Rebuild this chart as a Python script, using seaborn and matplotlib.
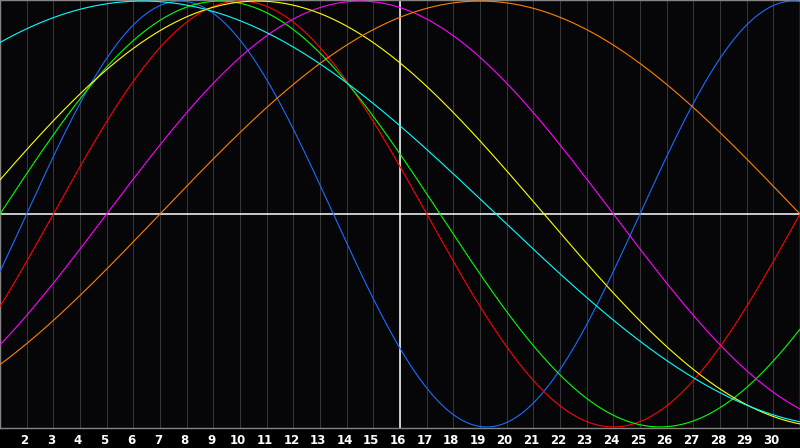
import numpy as np
import pandas as pd
import seaborn as sns
import matplotlib.pyplot as plt
import matplotlib.transforms as mtransforms

# biorhythm cycles: cycle length (days) and the day the curve crosses zero going up
cycles = ['physical', 'emotional', 'intellectual', 'intuitive', 'aesthetic', 'awareness', 'spiritual']
periods = [23, 28, 33, 38, 43, 48, 53]
zero_day = [2.0, 3.0, 1.0, 5.0, -0.1, 7.0, -6.9]
colors = ['#1a6cff', '#ff0000', '#00ff00', '#ff00ff', '#ffff00', '#ff8000', '#00ffff']

days = list(range(1, 32))
tick_days = list(range(2, 31))
today = 16

t = np.linspace(1, 31, 1200)
rows = []
for name, p, z in zip(cycles, periods, zero_day):
    v = np.sin(2 * np.pi * (t - z) / p)
    rows.append(pd.DataFrame({'day': t, 'value': v, 'cycle': name}))
df = pd.concat(rows, ignore_index=True)

sns.set_style('dark', {'axes.facecolor': '#060609', 'figure.facecolor': '#000000'})
plt.rcParams['font.family'] = ['DejaVu Sans']

fig = plt.figure(figsize=(8, 4.48), dpi=100)
ax = fig.add_axes([0, 20 / 448, 1, 428 / 448])

for d in days:
    ax.axvline(d, color='#363636', lw=0.75, zorder=1)

sns.lineplot(data=df, x='day', y='value', hue='cycle', palette=dict(zip(cycles, colors)),
             hue_order=cycles, linewidth=0.8, legend=False, ax=ax, zorder=3)

ax.axhline(0, color='white', lw=1.1, zorder=2)
ax.axvline(today, color='white', lw=1.1, zorder=2)

ax.set_xlim(1, 31)
ax.set_ylim(-1.005, 1.005)
ax.set_yticks([])
ax.set_xticks(tick_days)
ax.set_xticklabels([str(d) for d in tick_days], color='white', fontsize=8.5, fontweight='bold')
ax.tick_params(axis='x', length=0, pad=4)
shift = mtransforms.ScaledTranslation(-2 / 100, 0, fig.dpi_scale_trans)
for lab in ax.get_xticklabels():
    lab.set_transform(lab.get_transform() + shift)
ax.set_xlabel('')
ax.set_ylabel('')
for s in ax.spines.values():
    s.set_visible(True)
    s.set_color('#848484')
    s.set_linewidth(1.0)

fig.savefig('out.png', dpi=100, facecolor='#000000')
